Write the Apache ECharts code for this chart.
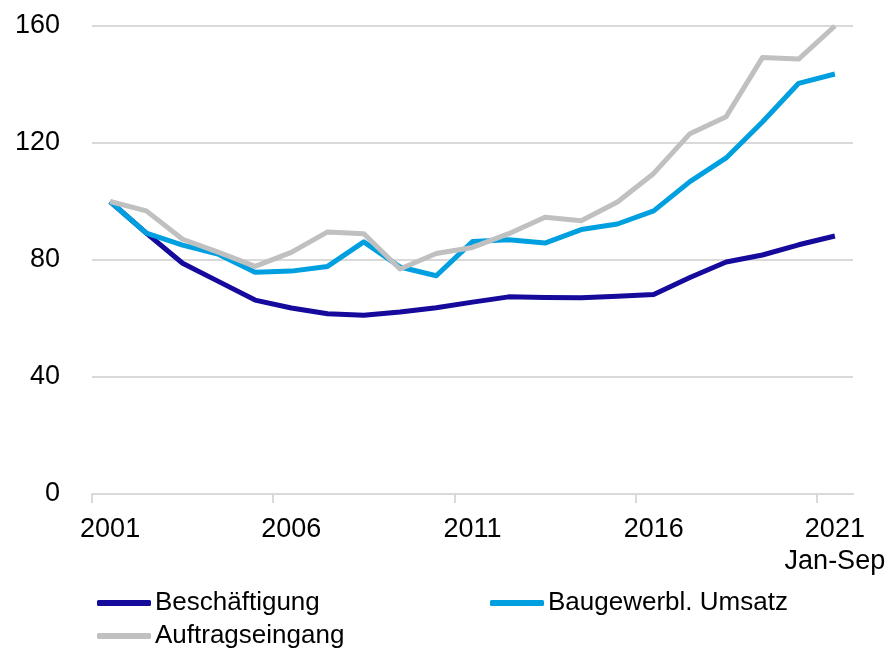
<!DOCTYPE html>
<html>
<head>
<meta charset="utf-8">
<script src="https://cdn.jsdelivr.net/npm/echarts@6/dist/echarts.min.js"></script>
<style>
html,body{margin:0;padding:0;background:#fff;}
#chart{width:889px;height:648px;}
</style>
</head>
<body>
<div id="chart"></div>
<script>
var years = ['2001','2002','2003','2004','2005','2006','2007','2008','2009','2010','2011','2012','2013','2014','2015','2016','2017','2018','2019','2020','2021'];
var beschaeftigung = [100, 89.2, 78.9, 72.6, 66.3, 63.6, 61.6, 61.1, 62.2, 63.7, 65.6, 67.4, 67.2, 67.1, 67.6, 68.2, 74.0, 79.3, 81.7, 85.2, 88.2];
var umsatz = [100, 89.2, 85.1, 81.9, 75.8, 76.2, 77.8, 86.2, 77.6, 74.6, 86.3, 86.9, 85.8, 90.4, 92.3, 96.8, 106.8, 114.9, 127.2, 140.4, 143.6];
var auftrag = [100, 96.8, 87.1, 82.6, 77.8, 82.6, 89.6, 89.0, 76.9, 82.2, 84.3, 89.0, 94.6, 93.4, 99.8, 109.6, 123.2, 129.0, 149.2, 148.7, 160];
var yTicks = [0, 40, 80, 120, 160];
var xTickLabels = ['2001', '2006', '2011', '2016', '2021'];
var names = ['Beschäftigung', 'Baugewerbl. Umsatz', 'Auftragseingang'];
var colors = ['#150a9c', '#00a0e0', '#c0c0c0'];

var font = '"Liberation Sans", Arial, sans-serif';
var chart = echarts.init(document.getElementById('chart'));

function legendAt(name, left, top) {
  return {
    data: [name], left: left, top: top, padding: 0, orient: 'horizontal',
    icon: 'roundRect', itemWidth: 54, itemHeight: 6, itemGap: 5,
    selectedMode: false,
    textStyle: { fontFamily: font, fontSize: 26, color: '#000', lineHeight: 30, padding: [0,0,0,-1] }
  };
}

var tickIdx = xTickLabels.map(function (y) { return years.indexOf(y); });

chart.setOption({
  animation: false,
  color: colors,
  grid: { left: 92, right: 36, top: 26, bottom: 154, containLabel: false },
  legend: [
    legendAt(names[0], 97, 588),
    legendAt(names[1], 490, 588),
    legendAt(names[2], 97, 621)
  ],
  xAxis: [{
    type: 'category',
    data: years,
    boundaryGap: true,
    axisLine: { show: true, lineStyle: { color: '#d9d9d9', width: 2 } },
    axisTick: { show: false },
    axisLabel: {
      interval: function (i, v) { return xTickLabels.indexOf(v) >= 0; },
      margin: 20, color: '#000', fontFamily: font, fontSize: 27, lineHeight: 32,
      formatter: function (v) { return v === '2021' ? '2021\nJan-Sep' : v; }
    },
    splitLine: { show: false }
  }, {
    type: 'value', position: 'bottom', min: 0, max: years.length,
    axisLine: { show: false },
    axisLabel: { show: false },
    splitLine: { show: false },
    axisTick: { show: true, customValues: tickIdx, length: 9, lineStyle: { color: '#d9d9d9', width: 2 } }
  }],
  yAxis: {
    type: 'value', min: yTicks[0], max: yTicks[yTicks.length - 1], interval: 40,
    axisLine: { show: false }, axisTick: { show: false },
    axisLabel: { margin: 32, color: '#000', fontFamily: font, fontSize: 27 },
    splitLine: { show: true, lineStyle: { color: '#d9d9d9', width: 2 } }
  },
  series: [
    { name: names[0], type: 'line', data: beschaeftigung, symbol: 'none', z: 3,
      lineStyle: { width: 5, color: colors[0], join: 'round', cap: 'butt' } },
    { name: names[1], type: 'line', data: umsatz, symbol: 'none', z: 4,
      lineStyle: { width: 5, color: colors[1], join: 'round', cap: 'butt' } },
    { name: names[2], type: 'line', data: auftrag, symbol: 'none', z: 5,
      lineStyle: { width: 5, color: colors[2], join: 'round', cap: 'butt' } }
  ]
});
</script>
</body>
</html>
